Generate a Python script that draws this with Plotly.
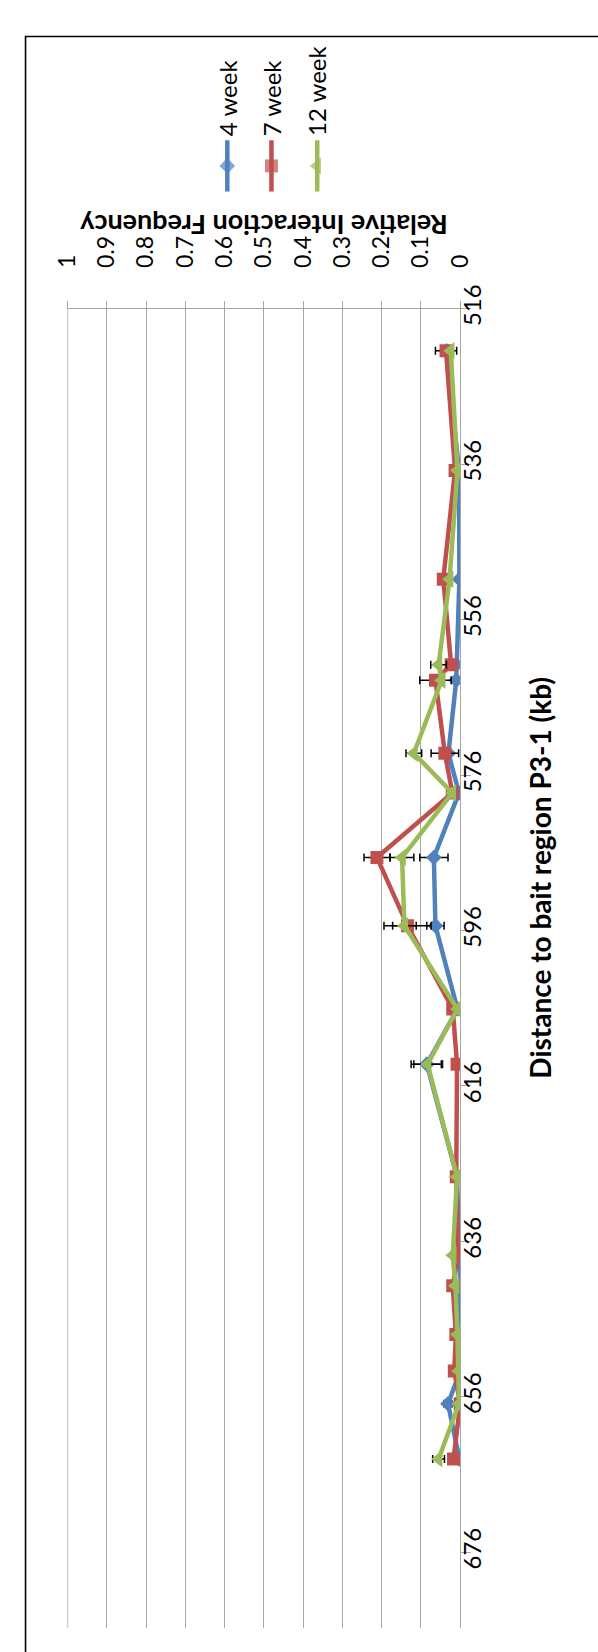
import plotly.graph_objects as go

# Distance of each probed fragment from the bait region (kb)
distance_kb = [521.4, 536.8, 550.8, 561.8, 563.8, 573.2, 578.3, 586.6, 595.4,
               606.1, 613.2, 627.7, 637.8, 641.7, 648.0, 652.7, 656.9, 664.0]

# Relative interaction frequency per time point
week4 = [0.035, 0.003, 0.002, 0.010, 0.010, 0.030, 0.003, 0.067, 0.063,
         0.007, 0.085, 0.008, 0.003, 0.000, 0.000, 0.000, 0.031, 0.002]
week7 = [0.036, 0.013, 0.043, 0.023, 0.063, 0.039, 0.020, 0.212, 0.134,
         0.019, 0.008, 0.010, 0.006, 0.019, 0.011, 0.015, 0.000, 0.017]
week12 = [0.024, 0.007, 0.027, 0.055, 0.047, 0.118, 0.020, 0.148, 0.142,
          0.007, 0.083, 0.008, 0.019, 0.012, 0.007, 0.004, 0.003, 0.055]

# Standard errors (None where no bar is drawn)
week4_err = [None, None, None, None, None, None, None, 0.036, 0.022,
             None, 0.040, None, None, None, None, None, 0.010, None]
week7_err = [0.027, None, None, None, 0.040, 0.035, None, 0.033, 0.060,
             None, None, None, None, None, None, None, None, None]
week12_err = [None, None, None, 0.020, None, 0.020, None, 0.030, 0.030,
              None, 0.035, None, 0.005, None, None, None, None, 0.015]

freq_ticks = [0, 0.1, 0.2, 0.3, 0.4, 0.5, 0.6, 0.7, 0.8, 0.9, 1]
freq_labels = ["0", "0.1", "0.2", "0.3", "0.4", "0.5", "0.6", "0.7", "0.8", "0.9", "1"]
dist_ticks = [516, 536, 556, 576, 596, 616, 636, 656, 676]
dist_labels = [str(v) for v in dist_ticks]

series_names = ["4 week", "7 week", "12 week"]
series_values = [week4, week7, week12]
series_errors = [week4_err, week7_err, week12_err]

W, H = 598, 1652
FONT = "Lato, 'Open Sans', sans-serif"
GRID = "#A6A6A6"
styles = [
    dict(color="#4F81BD", symbol="diamond", size=12),
    dict(color="#C0504D", symbol="square", size=13),
    dict(color="#9BBB59", symbol="triangle-left", size=15),
]


def px(x):
    return x / W


def py(y):
    return 1 - y / H


fig = go.Figure()

for name, vals, errs, st in zip(series_names, series_values, series_errors, styles):
    fig.add_trace(go.Scatter(
        x=vals, y=distance_kb, name=name, mode="lines+markers",
        line=dict(color=st["color"], width=4.5),
        marker=dict(color=st["color"], symbol=st["symbol"], size=st["size"],
                    line=dict(width=0)),
        error_x=dict(type="data", array=errs, color="black",
                     thickness=1.5, width=4),
        xaxis="x", yaxis="y",
    ))

# Legend drawn on a pixel-space helper subplot so the entries can be rotated
legend_x = [221.7, 268.0, 316.0]
for name, st, lx in zip(series_names, styles, legend_x):
    fig.add_trace(go.Scatter(
        x=[lx, lx, lx], y=[118, 144, 170], mode="lines+markers",
        line=dict(color=st["color"], width=4.5),
        marker=dict(color=st["color"], symbol=st["symbol"], size=[0, st["size"], 0],
                    line=dict(width=0)),
        xaxis="x2", yaxis="y2", hoverinfo="skip", showlegend=False,
    ))
    fig.add_annotation(
        x=px(lx), y=py(116), xref="paper", yref="paper", text=name, showarrow=False,
        textangle=-90, xanchor="center", yanchor="bottom",
        font=dict(family=FONT, size=24, color="black"),
    )

fig.add_annotation(
    x=px(260), y=py(205), xref="paper", yref="paper",
    text="<b>Relative Interaction Frequency</b>",
    showarrow=False, textangle=180, xanchor="center", yanchor="middle",
    font=dict(family=FONT, size=27, color="black"),
)
fig.add_annotation(
    x=px(550), y=py(866), xref="paper", yref="paper",
    text="<b>Distance to bait region P3-1 (kb)</b>",
    showarrow=False, textangle=-90, xanchor="center", yanchor="middle",
    font=dict(family=FONT, size=28, color="black"),
)

fig.update_layout(
    width=W, height=H,
    margin=dict(l=0, r=0, t=0, b=0),
    paper_bgcolor="white", plot_bgcolor="rgba(0,0,0,0)",
    showlegend=False,
    xaxis=dict(
        domain=[px(54), px(466)], range=[1, 0], side="top", anchor="y",
        tickmode="array", tickvals=freq_ticks, ticktext=freq_labels,
        tickangle=-90, tickfont=dict(family=FONT, size=23, color="black"),
        showgrid=True, gridcolor=GRID, gridwidth=1.4,
        showline=True, linecolor=GRID, linewidth=1.4,
        ticks="outside", ticklen=7, tickcolor=GRID, tickwidth=1.4,
        ticklabelstandoff=28, zeroline=False,
    ),
    yaxis=dict(
        domain=[py(1628), py(289)], range=[685.8, 516], side="right",
        anchor="x",
        tickmode="array", tickvals=dist_ticks, ticktext=dist_labels,
        tickangle=-90, tickfont=dict(family=FONT, size=24, color="black"),
        showgrid=False, showline=True, linecolor=GRID, linewidth=1.4,
        ticks="outside", ticklen=10, tickcolor=GRID, tickwidth=1.4,
        ticklabelstandoff=-19, zeroline=False,
    ),
    xaxis2=dict(domain=[0, 1], range=[0, W], visible=False, anchor="y2"),
    yaxis2=dict(domain=[0, 1], range=[H, 0], visible=False, anchor="x2"),
    shapes=[
        # gridline at the far end of the frequency axis
        dict(type="line", xref="x", yref="y domain", x0=1, x1=1, y0=0, y1=1,
             line=dict(color=GRID, width=1.4), layer="below"),
        dict(type="rect", xref="paper", yref="paper",
             x0=px(10), y0=py(12.7), x1=1.05, y1=-0.05,
             line=dict(color="black", width=1.6), layer="above"),
    ],
)

fig.write_html("out.html", post_script="document.body.style.margin = '0';")
